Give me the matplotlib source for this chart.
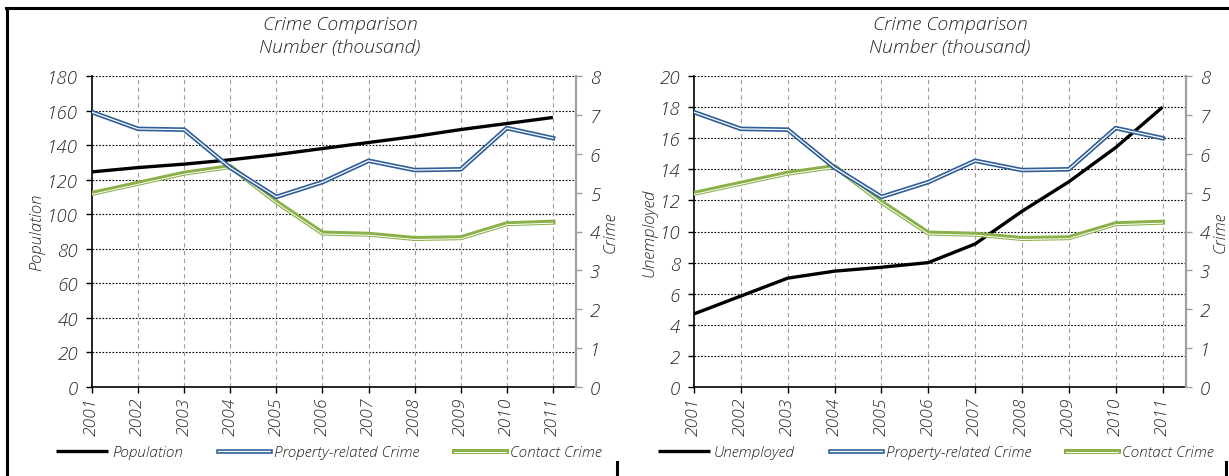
import matplotlib
matplotlib.use("Agg")
import matplotlib.pyplot as plt
import matplotlib.patheffects as pe
from matplotlib.lines import Line2D

years = ["2001", "2002", "2003", "2004", "2005", "2006", "2007", "2008", "2009", "2010", "2011"]

population = [124.5, 127, 129, 131.5, 134.5, 138, 141.5, 145, 149, 152.5, 156]
unemployed = [4.7, 5.85, 7.0, 7.45, 7.7, 8.0, 9.2, 11.3, 13.2, 15.4, 18.0]
property_crime = [7.07, 6.64, 6.62, 5.64, 4.89, 5.27, 5.82, 5.58, 5.60, 6.66, 6.40]
contact_crime = [4.98, 5.24, 5.50, 5.67, 4.76, 3.96, 3.93, 3.82, 3.84, 4.20, 4.24]

left_ticks_a = [0, 20, 40, 60, 80, 100, 120, 140, 160, 180]
left_ticks_b = [0, 2, 4, 6, 8, 10, 12, 14, 16, 18, 20]
right_ticks = [0, 1, 2, 3, 4, 5, 6, 7, 8]

W, H = 1229, 477
fig = plt.figure(figsize=(W / 100, H / 100), dpi=100)

FONT = ["Open Sans", "DejaVu Sans"]
WT = "light"
TXT = "#262626"
BLUE = "#2F5E98"
GREEN = "#8AB04A"
fs = 11

def fx(px):
    return px / W

def fy(py):
    return 1 - py / H

def tprops(size):
    return dict(fontsize=size, color=TXT, family=FONT, style="italic", weight=WT)

def panel(x0, x1, primary, ylabel, ymax, yticks, title_x, leg_x, line_label):
    ax = fig.add_axes([fx(x0), fy(388), fx(x1) - fx(x0), fy(77) - fy(388)])
    xs = list(range(len(years)))
    ax.set_xlim(0, 10.5)
    ax.set_ylim(0, ymax)
    ax.set_yticks(yticks)
    ax.set_xticks(xs)
    ax.set_xticklabels(years, rotation=90, **tprops(12.5))
    ax.set_yticklabels([str(t) for t in yticks], **tprops(13.5))
    for t in yticks:
        ax.axhline(t, color="black", lw=0.8, ls=(0, (1.5, 1.5)), zorder=1)
    for x in xs[1:]:
        ax.axvline(x, color="#A0A0A0", lw=0.8, ls=(0, (4, 3)), zorder=1)
    for s in ["top", "right"]:
        ax.spines[s].set_visible(False)
    ax.spines["left"].set_linewidth(1.2)
    ax.spines["bottom"].set_linewidth(1.2)
    ax.tick_params(axis="both", direction="out", length=4, width=1, color="black", pad=3)
    ax.tick_params(axis="y", pad=6)
    ax.set_ylabel(ylabel, labelpad=1, **tprops(12))
    l1, = ax.plot(xs, primary, color="black", lw=2.4, zorder=5, label=line_label,
                  solid_capstyle="butt")

    ax2 = ax.twinx()
    ax2.set_xlim(0, 10.5)
    ax2.set_ylim(0, 8)
    ax2.set_yticks(right_ticks)
    ax2.set_yticklabels([str(t) for t in right_ticks], **tprops(13.5))
    for s in ["top", "left", "bottom"]:
        ax2.spines[s].set_visible(False)
    ax2.spines["right"].set_color("#A0A0A0")
    ax2.spines["right"].set_linewidth(1.6)
    ax2.tick_params(axis="y", direction="out", length=4, width=1, color="#A0A0A0", pad=6)
    ax2.set_ylabel("Crime", rotation=90, labelpad=2, **tprops(12))

    l2, = ax2.plot(xs, property_crime, color=BLUE, lw=3.3, label="Property-related Crime",
                   path_effects=[pe.Stroke(linewidth=3.3, foreground=BLUE),
                                 pe.Stroke(linewidth=0.9, foreground="white"),
                                 ])
    l3, = ax2.plot(xs, contact_crime, color=GREEN, lw=3.6, label="Contact Crime",
                   path_effects=[pe.Stroke(linewidth=3.6, foreground=GREEN),
                                 pe.Stroke(linewidth=0.7, foreground="white", offset=(0, -0.7)),
                                 ])
    l2.set_zorder(3)
    l3.set_zorder(2)

    fig.text(fx(title_x), fy(25), "Crime Comparison", ha="center", va="center", **tprops(14))
    fig.text(fx(title_x), fy(48), "Number (thousand)", ha="center", va="center", **tprops(14))

    leg = fig.legend(handles=[l1, l2, l3], loc="center", bbox_to_anchor=(fx(leg_x), fy(453)),
                     ncol=3, frameon=False, handlelength=3.4, handletextpad=0.25,
                     columnspacing=2.3,
                     prop={"family": FONT, "style": "italic", "size": fs, "weight": WT})
    for t in leg.get_texts():
        t.set_color(TXT)
    return ax, ax2

panel(92, 576, population, "Population", 180, left_ticks_a, 340, 329, "Population")
panel(694, 1186, unemployed, "Unemployed", 20, left_ticks_b, 950, 936, "Unemployed")

# outer frame fragments
fig.add_artist(Line2D([fx(6), fx(1229)], [fy(9), fy(9)], color="black", lw=2.2, transform=fig.transFigure))
fig.add_artist(Line2D([fx(7), fx(7)], [fy(9), fy(477)], color="black", lw=2.2, transform=fig.transFigure))
fig.add_artist(Line2D([fx(617), fx(617)], [fy(463), fy(477)], color="black", lw=2.2, transform=fig.transFigure))
fig.add_artist(Line2D([fx(1226), fx(1226)], [fy(463), fy(477)], color="black", lw=2.2, transform=fig.transFigure))

fig.savefig("out.png", dpi=100, facecolor="white")
